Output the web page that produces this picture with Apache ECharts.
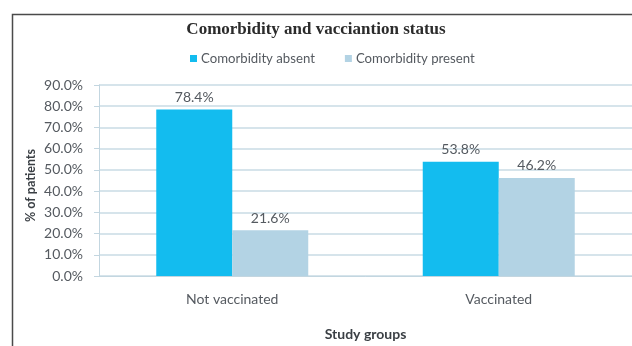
<!DOCTYPE html>
<html>
<head>
<meta charset="utf-8">
<script src="https://cdn.jsdelivr.net/npm/echarts@6/dist/echarts.min.js"></script>
<style>
  html, body { margin: 0; padding: 0; background: #ffffff; }
  #chart { width: 632px; height: 346px; }
</style>
</head>
<body>
<div id="chart"></div>
<script>
// Study groups and share of patients (%) by comorbidity status
const categories = ['Not vaccinated', 'Vaccinated'];
const comorbidityAbsent = [78.4, 53.8];
const comorbidityPresent = [21.6, 46.2];
const seriesNames = ['Comorbidity absent', 'Comorbidity present'];
const yTicks = { min: 0, max: 90, interval: 10 };

const chart = echarts.init(document.getElementById('chart'), null, { renderer: 'canvas' });

const labelFont = 'Lato, "Open Sans", sans-serif';
const textGrey = '#555a60';

function barLabel() {
  return {
    show: true,
    position: 'top',
    distance: 5,
    color: textGrey,
    fontFamily: labelFont,
    fontSize: 14,
    formatter: p => p.value.toFixed(1) + '%'
  };
}

chart.setOption({
  backgroundColor: '#ffffff',
  animation: false,
  title: {
    text: 'Comorbidity and vacciantion status',
    left: 311,
    top: 16,
    textAlign: 'center',
    textStyle: {
      fontFamily: '"Liberation Serif", "DejaVu Serif", serif',
      fontWeight: 'bold',
      fontSize: 17,
      color: '#2b2b2b'
    }
  },
  legend: {
    data: seriesNames,
    top: 47,
    left: 185,
    itemWidth: 7,
    itemHeight: 7,
    itemGap: 30,
    icon: 'rect',
    textStyle: {
      fontFamily: labelFont,
      fontSize: 13.2,
      color: textGrey,
      padding: [0, 0, 0, -1]
    }
  },
  grid: {
    left: 99,
    top: 85,
    width: 534,
    height: 197,
    containLabel: false
  },
  xAxis: {
    type: 'category',
    data: categories,
    name: 'Study groups',
    nameLocation: 'middle',
    nameGap: 51,
    nameMoveOverlap: false,
    nameTextStyle: {
      fontFamily: labelFont,
      fontWeight: 'bold',
      fontSize: 14,
      color: '#3a3f44'
    },
    axisLine: { show: true, lineStyle: { color: '#c3d6e0', width: 1 } },
    axisTick: { show: false },
    axisLabel: {
      margin: 16,
      fontFamily: labelFont,
      fontSize: 14,
      color: textGrey
    }
  },
  yAxis: {
    type: 'value',
    min: yTicks.min,
    max: yTicks.max,
    interval: yTicks.interval,
    name: '% of patients',
    nameLocation: 'middle',
    nameRotate: 90,
    nameGap: 62,
    nameMoveOverlap: false,
    nameTextStyle: {
      fontFamily: labelFont,
      fontWeight: 'bold',
      fontSize: 12.5,
      color: '#3a3f44',
      padding: [0, 0, 0, -10]
    },
    axisLine: { show: true, lineStyle: { color: '#c3d6e0', width: 1 } },
    axisTick: { show: true, length: 5, lineStyle: { color: '#c3d6e0' } },
    axisLabel: {
      margin: 16,
      fontFamily: labelFont,
      fontSize: 14,
      color: textGrey,
      formatter: v => v.toFixed(1) + '%'
    },
    splitLine: { show: true, lineStyle: { color: '#c8dbe5', width: 1.5 } }
  },
  series: [
    {
      name: seriesNames[0],
      type: 'bar',
      data: comorbidityAbsent,
      barWidth: 76,
      barGap: '0%',
      itemStyle: { color: '#13bcef' },
      label: barLabel()
    },
    {
      name: seriesNames[1],
      type: 'bar',
      data: comorbidityPresent,
      barWidth: 76,
      barGap: '0%',
      itemStyle: { color: '#b3d3e4' },
      label: barLabel()
    }
  ],
  graphic: [
    {
      type: 'rect',
      left: 10,
      top: 12,
      shape: { width: 700, height: 400 },
      style: { fill: 'none', stroke: '#4a4a4a', lineWidth: 1.5 },
      silent: true,
      z: 100
    }
  ]
});
</script>
</body>
</html>
